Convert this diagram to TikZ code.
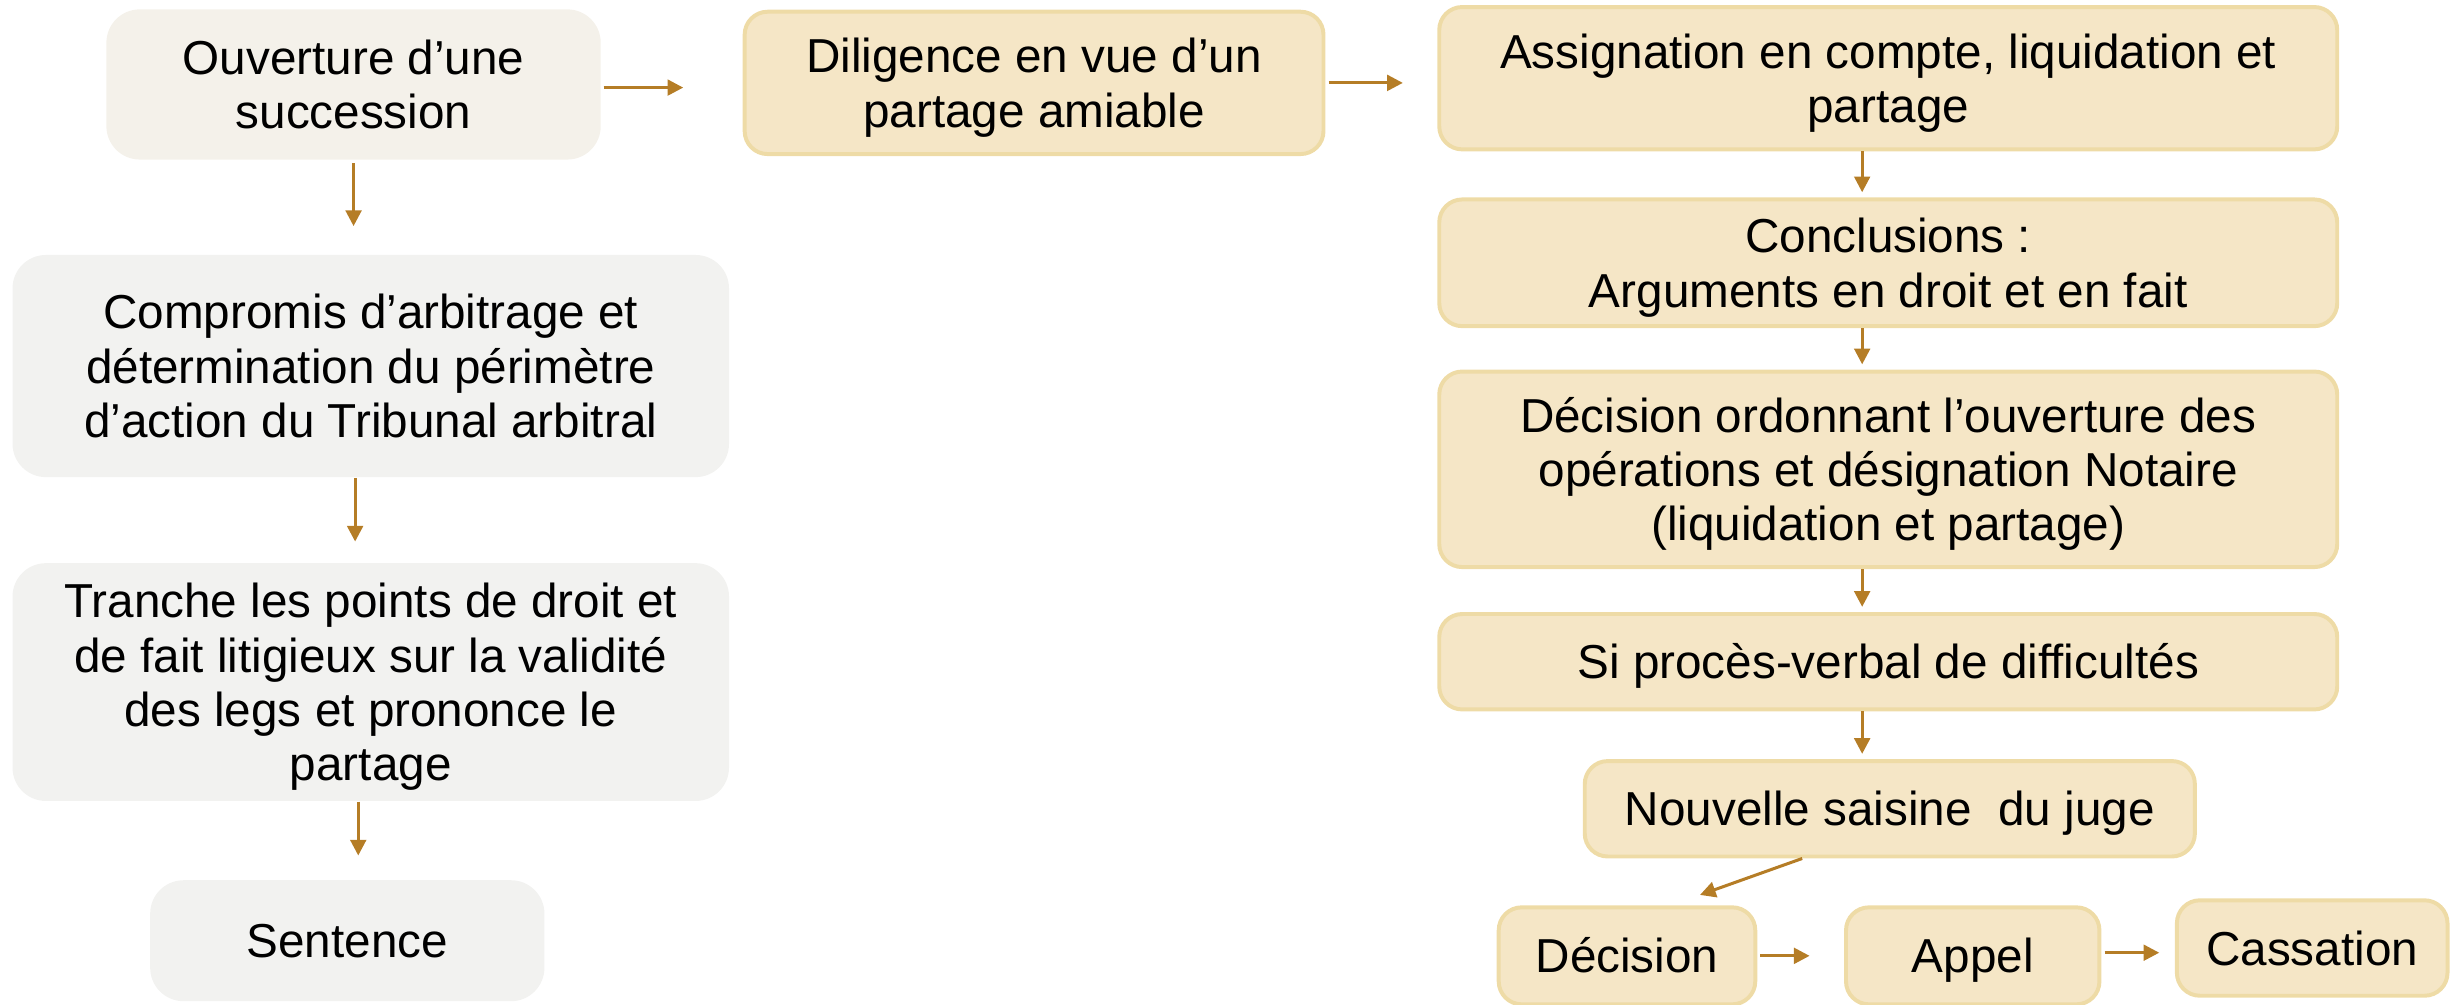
\documentclass[tikz,border=0pt]{standalone}
\usepackage{fontspec}
\setmainfont{Liberation Sans}
\usepackage[dvipsnames,svgnames,x11names]{xcolor}
\usepackage{tikz}
\usetikzlibrary{arrows.meta,positioning}
\definecolor{greyfill}{HTML}{F2F2F0}
\definecolor{startfill}{HTML}{F4F1EA}
\definecolor{tanfill}{HTML}{F5E6C6}
\definecolor{tanborder}{HTML}{EEDBA6}
\definecolor{arrowbrown}{HTML}{B57D26}

\begin{document}
\begin{tikzpicture}[
    x=1mm, y=1mm,
    boxtext/.style={align=flush center, font=\fontsize{13}{14.8}\selectfont,
        execute at begin node={\rule{0pt}{0.93em}},
        execute at end node={\rule[-0.212em]{0pt}{0.212em}}},
    boxsize/.style 2 args={minimum width=#1, text width=#1, minimum height=#2},
    greybox/.style={rectangle, rounded corners=3.2mm, fill=greyfill, inner sep=0pt, boxtext},
    tanbox/.style={rectangle, rounded corners=2.2mm, fill=tanfill, draw=tanborder,
        line width=0.38mm, inner sep=0pt, boxtext},
    flow/.style={draw=arrowbrown, line width=0.29mm,
        -{Triangle[length=1.5mm, width=1.5mm]}}
]
    \useasboundingbox (0,0) rectangle (235.2,-96.3);

    % left column
    \node[greybox, fill=startfill, boxsize={47.4mm}{14.4mm}] (ouv) at (33.9,-8.1)
        {Ouverture d’une\\succession};
    \node[greybox, boxsize={68.7mm}{21.3mm}] (comp) at (35.55,-35.1)
        {Compromis d’arbitrage et\\détermination du périmètre\\d’action du Tribunal arbitral};
    \node[greybox, boxsize={68.7mm}{22.8mm}] (tranche) at (35.55,-65.4)
        {Tranche les points de droit et\\de fait litigieux sur la validité\\des legs et prononce le\\partage};
    \node[greybox, boxsize={37.8mm}{11.6mm}] (sent) at (33.3,-90.2)
        {Sentence};

    % middle
    \node[tanbox, boxsize={55.5mm}{13.65mm}] (dil) at (99.15,-7.95)
        {Diligence en vue d’un\\partage amiable};

    % right column
    \node[tanbox, boxsize={86.1mm}{13.65mm}] (assig) at (181.05,-7.5)
        {Assignation en compte, liquidation et\\partage};
    \node[tanbox, boxsize={86.1mm}{12.15mm}] (concl) at (181.05,-25.2)
        {Conclusions :\\Arguments en droit et en fait};
    \node[tanbox, boxsize={86.1mm}{18.75mm}] (ordo) at (181.05,-45)
        {Décision ordonnant l’ouverture des\\opérations et désignation Notaire\\(liquidation et partage)};
    \node[tanbox, boxsize={86.1mm}{9.15mm}] (pv) at (181.05,-63.45)
        {Si procès-verbal de difficultés};
    \node[tanbox, boxsize={58.5mm}{9.15mm}] (nouv) at (181.2,-77.55)
        {Nouvelle saisine \ du juge};
    \node[tanbox, boxsize={24.6mm}{9.3mm}] (dec) at (156,-91.65)
        {Décision};
    \node[tanbox, boxsize={24.3mm}{9.3mm}] (appel) at (189.15,-91.65)
        {Appel};
    \node[tanbox, boxsize={25.95mm}{9.15mm}] (cass) at (221.7,-90.9)
        {Cassation};

    % arrows
    \draw[flow, shorten >=2.7mm] ([yshift=-0.3mm]ouv.south) -- (ouv.south |- comp.north);
    \draw[flow, shorten >=2mm] ([xshift=-1.5mm]comp.south) -- ([xshift=-1.5mm]comp.south |- tranche.north);
    \draw[flow, shorten >=2.3mm] ([xshift=-1.2mm]tranche.south) -- ([xshift=-1.2mm]tranche.south |- sent.north);
    \draw[flow, shorten >=5.7mm] ([xshift=0.2mm, yshift=-0.3mm]ouv.east) -- ([yshift=-0.3mm]ouv.east -| dil.west);
    \draw[flow, shorten >=3.3mm] ([xshift=0.3mm]dil.east) -- (dil.east -| assig.west);
    \foreach \a/\b in {assig/concl, concl/ordo, ordo/pv, pv/nouv}
        \draw[flow, shorten >=0.5mm] ([xshift=-2.5mm]\a.south) -- ([xshift=-2.5mm]\a.south |- \b.north);
    \draw[flow] ([xshift=-8.4mm]nouv.south) -- ([xshift=7mm, yshift=1mm]dec.north);
    \draw[flow, shorten >=3.3mm] ([xshift=0.3mm]dec.east) -- (appel.west);
    \draw[flow, shorten >=1.5mm] ([xshift=0.3mm, yshift=0.3mm]appel.east) -- ([yshift=0.3mm]appel.east -| cass.west);
\end{tikzpicture}
\end{document}
